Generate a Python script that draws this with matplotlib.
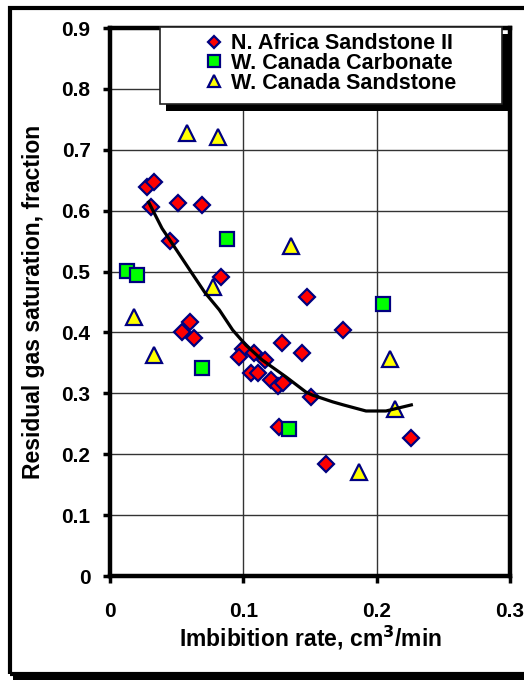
import matplotlib
matplotlib.use("Agg")
import matplotlib.pyplot as plt
from matplotlib.patches import Rectangle

plt.rcParams['font.family'] = ['Liberation Sans', 'DejaVu Sans']
plt.rcParams['font.weight'] = 'bold'

# N. Africa Sandstone II
africa_x = [0.028, 0.033, 0.031, 0.051, 0.069, 0.045, 0.083, 0.148, 0.175,
            0.060, 0.054, 0.063, 0.129, 0.144, 0.100, 0.097, 0.108, 0.116,
            0.106, 0.111, 0.121, 0.126, 0.130, 0.151, 0.127, 0.226, 0.162]
africa_y = [0.639, 0.647, 0.606, 0.612, 0.609, 0.550, 0.491, 0.459, 0.404,
            0.417, 0.401, 0.391, 0.383, 0.366, 0.372, 0.360, 0.367, 0.355,
            0.334, 0.333, 0.322, 0.312, 0.317, 0.294, 0.245, 0.227, 0.184]

# W. Canada Carbonate
carb_x = [0.013, 0.020, 0.088, 0.069, 0.205, 0.134]
carb_y = [0.501, 0.494, 0.553, 0.342, 0.447, 0.241]

# W. Canada Sandstone
wcs_x = [0.058, 0.081, 0.136, 0.077, 0.018, 0.033, 0.210, 0.214, 0.187]
wcs_y = [0.727, 0.721, 0.542, 0.475, 0.425, 0.363, 0.356, 0.274, 0.171]

# trend line
trend_x = [0.029, 0.039, 0.050, 0.060, 0.071, 0.082, 0.092, 0.102, 0.114,
           0.132, 0.147, 0.152, 0.167, 0.175, 0.192, 0.207, 0.226]
trend_y = [0.614, 0.571, 0.535, 0.502, 0.466, 0.437, 0.404, 0.379, 0.355,
           0.327, 0.302, 0.297, 0.286, 0.281, 0.271, 0.271, 0.281]

xticks = [0, 0.1, 0.2, 0.3]
xticklabels = ['0', '0.1', '0.2', '0.3']
yticks = [0, 0.1, 0.2, 0.3, 0.4, 0.5, 0.6, 0.7, 0.8, 0.9]
yticklabels = ['0', '0.1', '0.2', '0.3', '0.4', '0.5', '0.6', '0.7', '0.8', '0.9']

W, H = 524, 680
fig = plt.figure(figsize=(W / 100, H / 100), dpi=100)
ax = fig.add_axes([110 / W, 1 - 576 / H, 400 / W, 548 / H])

navy = '#000080'
l1, = ax.plot(africa_x, africa_y, 'D', ms=8.3, mfc='red', mec=navy, mew=1.6,
              zorder=3, label='N. Africa Sandstone II')
l2, = ax.plot(carb_x, carb_y, 's', ms=10.2, mfc='#00ff00', mec=navy, mew=1.6,
              zorder=3, label='W. Canada Carbonate')
l3, = ax.plot(wcs_x, wcs_y, '^', ms=11, mfc='yellow', mec=navy, mew=1.6,
              zorder=3, label='W. Canada Sandstone')
ax.plot(trend_x, trend_y, color='black', lw=2.3, zorder=4)

ax.set_xlim(0, 0.3)
ax.set_ylim(0, 0.9)
ax.set_xticks(xticks)
ax.set_xticklabels(xticklabels)
ax.set_yticks(yticks)
ax.set_yticklabels(yticklabels)
ax.tick_params(direction='out', length=5, width=2.5, labelsize=15)
ax.tick_params(axis='x', pad=14)
ax.tick_params(axis='y', pad=9)
ax.grid(True, color='#333333', lw=1.0)
ax.set_axisbelow(True)
for s in ax.spines.values():
    s.set_linewidth(3.2)

ax.set_xlabel('Imbibition rate, cm$^\\mathbf{3}$/min', fontsize=16.5,
              fontweight='bold', labelpad=2)
ax.set_ylabel('Residual gas saturation, fraction', fontsize=16.5,
              fontweight='bold', labelpad=12)

# legend box with drop shadow
bx0, bx1, by0, by1 = 160 / W, 502 / W, 1 - 104 / H, 1 - 27 / H
fig.patches.append(Rectangle((bx0 + 6 / W, by0 - 7 / H), bx1 - bx0, by1 - by0,
                             transform=fig.transFigure, facecolor='black',
                             edgecolor='none', zorder=1))
fig.patches.append(Rectangle((bx0, by0), bx1 - bx0, by1 - by0,
                             transform=fig.transFigure, facecolor='white',
                             edgecolor='#222222', lw=1.2, zorder=1.1))
fig.legend(handles=[l1, l2, l3], loc='center',
           bbox_to_anchor=((bx0 + bx1) / 2, (by0 + by1) / 2 + 2 / H),
           frameon=False, fontsize=15.5, markerscale=0.78, handlelength=0.8,
           handletextpad=0.4, labelspacing=-0.05, borderpad=0)

# outer border of the chart area
fig.patches.append(Rectangle((10 / W, 1 - 674 / H), 1.0, (674 - 7.5) / H,
                             transform=fig.transFigure, fill=False,
                             edgecolor='black', lw=3, zorder=0.5))
fig.patches.append(Rectangle((13 / W, 0), 1.0, 6 / H,
                             transform=fig.transFigure, facecolor='black',
                             edgecolor='none', zorder=0.5))

fig.savefig('out.png', dpi=100)
